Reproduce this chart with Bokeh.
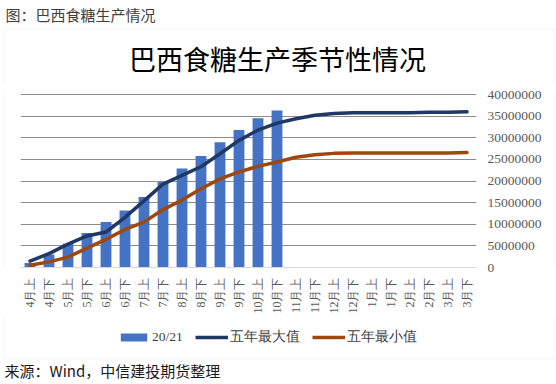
from bokeh.plotting import figure
from bokeh.models import (ColumnDataSource, FactorRange, FixedTicker, NumeralTickFormatter,
                          Label, Legend, LegendItem, Range1d, BoxAnnotation)
from bokeh.layouts import column, row
from bokeh.embed import file_html
from bokeh.resources import INLINE
import math

categories = ["4月上", "4月下", "5月上", "5月下", "6月上", "6月下", "7月上", "7月下",
              "8月上", "8月下", "9月上", "9月下", "10月上", "10月下", "11月上", "11月下",
              "12月上", "12月下", "1月上", "1月下", "2月上", "2月下", "3月上", "3月下"]

season_2021 = [1.06e6, 3.0e6, 5.5e6, 8.0e6, 10.5e6, 13.2e6, 16.3e6, 19.8e6, 22.9e6, 25.8e6,
               29.0e6, 31.8e6, 34.5e6, 36.3e6]

five_year_max = [1.5e6, 3.2e6, 5.4e6, 7.3e6, 8.2e6, 11.6e6, 15.4e6, 19.3e6, 21.3e6, 23.3e6,
                 26.3e6, 29.4e6, 31.8e6, 33.4e6, 34.4e6, 35.2e6, 35.6e6, 35.8e6, 35.8e6, 35.8e6,
                 35.8e6, 35.9e6, 35.9e6, 36.0e6]

five_year_min = [0.5e6, 1.3e6, 2.4e6, 4.5e6, 6.5e6, 8.8e6, 10.5e6, 13.4e6, 15.6e6, 18.2e6,
                 20.5e6, 22.1e6, 23.4e6, 24.4e6, 25.5e6, 26.1e6, 26.4e6, 26.5e6, 26.5e6, 26.5e6,
                 26.5e6, 26.5e6, 26.5e6, 26.6e6]

y_ticks = [0, 5e6, 10e6, 15e6, 20e6, 25e6, 30e6, 35e6, 40e6]

series_names = ["20/21", "五年最大值", "五年最小值"]
BAR_C, MAX_C, MIN_C = "#4472C4", "#203864", "#9E480E"
BOX_C = "#D9D9D9"
CJK = "Noto Sans CJK SC"

W = 556
TOP_H, MID_H, BOT_H = 84, 232, 68          # stacked strips: 0-84, 84-316, 316-384
STRIP_L, STRIP_R = 20, 4                   # side strips beside the main plot


def blank_fig(w, h):
    f = figure(width=w, height=h, x_range=Range1d(0, w), y_range=Range1d(h, 0),
               x_axis_type=None, y_axis_type=None, output_backend="svg",
               toolbar_location=None, title=None, min_border=0)
    f.outline_line_color = None
    f.background_fill_color = "white"
    f.border_fill_color = "white"
    return f


def box(f, left, right, top, bottom):
    f.add_layout(BoxAnnotation(left=left, right=right, top=top, bottom=bottom,
                               fill_alpha=0, line_color=BOX_C, line_width=1))


# ---- top strip: caption + chart title ----
top = blank_fig(W, TOP_H)
box(top, 3.5, 553.5, 28.5, TOP_H + 20)
top.add_layout(Label(x=5, y=14, text="图：巴西食糖生产情况", text_font=CJK,
                     text_font_size="15px", text_color="#404040",
                     text_baseline="middle", text_align="left"))
top.add_layout(Label(x=277, y=58, text="巴西食糖生产季节性情况", text_font=CJK,
                     text_font_size="27px", text_color="#000000",
                     text_baseline="middle", text_align="center"))

# ---- main plot ----
main_w = W - STRIP_L - STRIP_R
p = figure(width=main_w, height=MID_H, x_range=FactorRange(*categories, range_padding=0),
           y_range=(0, 40.25e6), y_axis_location="right", output_backend="svg",
           toolbar_location=None, title=None,
           min_border_left=0, min_border_right=main_w - 456, min_border_top=9,
           min_border_bottom=49)
p.outline_line_color = None
p.background_fill_color = "white"
p.border_fill_color = "white"

src_bar = ColumnDataSource(dict(x=categories[:len(season_2021)], y=season_2021))
src_line = ColumnDataSource(dict(x=categories, ymax=five_year_max, ymin=five_year_min))

p.vbar(x="x", top="y", width=0.57, source=src_bar, fill_color=BAR_C, line_color=None)
p.line(x="x", y="ymax", source=src_line, line_color=MAX_C, line_width=3.5,
       line_join="round", line_cap="round")
p.line(x="x", y="ymin", source=src_line, line_color=MIN_C, line_width=3.5,
       line_join="round", line_cap="round")

yax = p.yaxis[0]
yax.ticker = FixedTicker(ticks=y_ticks)
yax.formatter = NumeralTickFormatter(format="0")
yax.axis_line_color = None
yax.major_tick_line_color = None
yax.minor_tick_line_color = None
yax.major_tick_out = 0
yax.major_tick_in = 0
yax.major_label_text_font = "Liberation Serif"
yax.major_label_text_font_size = "13.5px"
yax.major_label_text_color = "#595959"
yax.major_label_standoff = 11

xax = p.xaxis[0]
xax.axis_line_color = BOX_C
xax.axis_line_width = 1
xax.major_tick_line_color = None
xax.minor_tick_line_color = None
xax.major_tick_out = 0
xax.major_tick_in = 0
xax.major_label_orientation = math.pi / 2
xax.major_label_text_font = "Liberation Serif"
xax.major_label_text_font_size = "12px"
xax.major_label_text_color = "#595959"
xax.major_label_standoff = 10

p.xgrid.grid_line_color = None
p.ygrid.grid_line_color = "#8C8C8C"
p.ygrid.grid_line_width = 1
p.ygrid.ticker = FixedTicker(ticks=y_ticks[1:])

left_strip = blank_fig(STRIP_L, MID_H)
box(left_strip, 3.5, 200, -20, MID_H + 20)
right_strip = blank_fig(STRIP_R, MID_H)
box(right_strip, -200, 1.5, -20, MID_H + 20)

# ---- bottom strip: legend + source note ----
bot = blank_fig(W, BOT_H)
box(bot, 3.5, 553.5, -20, 42.5)
# legend-only renderers: the series values lie far outside this strip's pixel ranges,
# so only their legend swatches are seen
d_bar = bot.vbar(x=season_2021, top=season_2021, width=1, fill_color=BAR_C, line_color=None)
d_max = bot.line(x=five_year_max, y=five_year_max, line_color=MAX_C, line_width=3.5)
d_min = bot.line(x=five_year_min, y=five_year_min, line_color=MIN_C, line_width=3.5)
legend = Legend(items=[LegendItem(label=series_names[0], renderers=[d_bar]),
                       LegendItem(label=series_names[1], renderers=[d_max]),
                       LegendItem(label=series_names[2], renderers=[d_min])],
                orientation="horizontal", location=(117, 38),
                glyph_width=33, glyph_height=10, label_standoff=2, spacing=12,
                padding=0, margin=0, border_line_color=None, background_fill_alpha=0,
                label_text_font="Liberation Serif", label_text_font_size="13.5px",
                label_text_color="#404040")
bot.add_layout(legend, "center")
bot.add_layout(Label(x=4, y=54, text="来源：Wind，中信建投期货整理", text_font=CJK,
                     text_font_size="15px", text_color="#1A1A1A",
                     text_baseline="middle", text_align="left"))

layout = column(top, row(left_strip, p, right_strip), bot)

open("out.html", "w").write(file_html(layout, INLINE))
